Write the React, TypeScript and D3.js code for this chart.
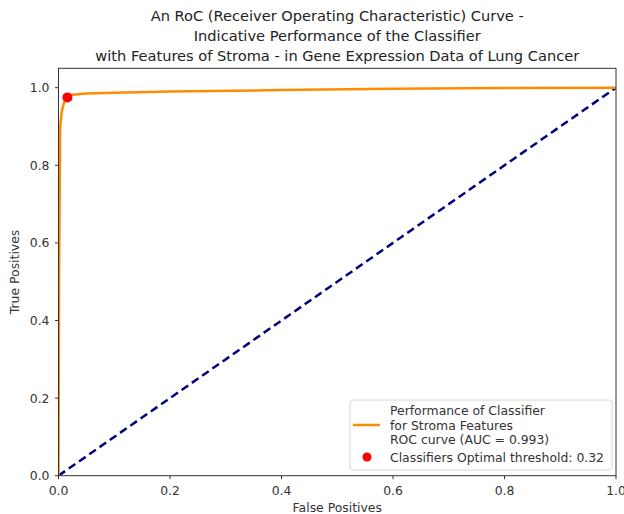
import React from "react";
import * as d3 from "d3";

const titleLines = [
  "An RoC (Receiver Operating Characteristic) Curve -",
  "Indicative Performance of the Classifier",
  "with Features of Stroma - in Gene Expression Data of Lung Cancer",
];
const xTicks = [0, 0.2, 0.4, 0.6, 0.8, 1.0];
const yTicks = [0, 0.2, 0.4, 0.6, 0.8, 1.0];
const rocFpr = [0, 0.001, 0.003, 0.006, 0.01, 0.016, 0.025, 0.05, 0.1, 0.2, 0.4, 0.6, 0.8, 1.0];
const rocTpr = [0, 0.5, 0.9, 0.94, 0.962, 0.975, 0.982, 0.985, 0.987, 0.99, 0.994, 0.997, 0.999, 1.0];
const chanceFpr = [0, 1];
const chanceTpr = [0, 1];
const optimalPoint = { fpr: 0.016, tpr: 0.975 };
const legendLabels = [
  "Performance of Classifier",
  "for Stroma Features",
  "ROC curve (AUC = 0.993)",
  "Classifiers Optimal threshold: 0.32",
];

const W = 624;
const H = 514;
const left = 58.5;
const right = 616;
const top = 68.3;
const bottom = 475.7;
const FONT = "DejaVu Sans, sans-serif";
const FS = 12.4;

export default function App() {
  const x = d3.scaleLinear().domain([0, 1]).range([left, right]);
  const y = d3.scaleLinear().domain([0, 1.05]).range([bottom, top]);
  const line = d3
    .line<[number, number]>()
    .x((d) => x(d[0]))
    .y((d) => y(d[1]));
  const rocData: [number, number][] = rocFpr.map((f, i) => [f, rocTpr[i]]);
  const chanceData: [number, number][] = chanceFpr.map((f, i) => [f, chanceTpr[i]]);

  return (
    <svg
      width={W}
      height={H}
      style={{ position: "absolute", left: 0, top: 0, background: "#fff" }}
      fontFamily={FONT}
    >
      <rect x={0} y={0} width={W} height={H} fill="#fff" />
      {titleLines.map((t, i) => (
        <text
          key={i}
          x={(left + right) / 2}
          y={20.5 + i * 20}
          textAnchor="middle"
          fontSize={14.6}
          fill="#222"
        >
          {t}
        </text>
      ))}
      <defs>
        <clipPath id="plot">
          <rect x={left} y={top} width={right - left} height={bottom - top} />
        </clipPath>
      </defs>
      <g clipPath="url(#plot)">
        <path
          d={line(chanceData) || ""}
          fill="none"
          stroke="#000080"
          strokeWidth={2.5}
          strokeDasharray="8,4.5"
        />
        <path d={line(rocData) || ""} fill="none" stroke="#ff8c00" strokeWidth={2.5} />
        <circle cx={x(optimalPoint.fpr)} cy={y(optimalPoint.tpr)} r={5} fill="red" />
      </g>
      <rect
        x={left}
        y={top}
        width={right - left}
        height={bottom - top}
        fill="none"
        stroke="#333"
        strokeWidth={1}
      />
      {xTicks.map((t) => (
        <g key={"x" + t}>
          <line x1={x(t)} x2={x(t)} y1={bottom} y2={bottom + 3.5} stroke="#333" />
          <text x={x(t)} y={bottom + 19} textAnchor="middle" fontSize={FS} fill="#333">
            {t.toFixed(1)}
          </text>
        </g>
      ))}
      {yTicks.map((t) => (
        <g key={"y" + t}>
          <line x1={left - 3.5} x2={left} y1={y(t)} y2={y(t)} stroke="#333" />
          <text x={left - 9} y={y(t) + 4.5} textAnchor="end" fontSize={FS} fill="#333">
            {t.toFixed(1)}
          </text>
        </g>
      ))}
      <text x={(left + right) / 2} y={511.5} textAnchor="middle" fontSize={FS} fill="#333">
        False Positives
      </text>
      <text
        transform={`translate(19, ${(top + bottom) / 2}) rotate(-90)`}
        textAnchor="middle"
        fontSize={FS}
        fill="#333"
      >
        True Positives
      </text>
      <g>
        <rect
          x={350}
          y={400}
          width={262}
          height={70}
          rx={3}
          fill="#fff"
          fillOpacity={0.85}
          stroke="#d6d6d6"
        />
        <line x1={353} x2={380} y1={425} y2={425} stroke="#ff8c00" strokeWidth={2.5} />
        {legendLabels.slice(0, 3).map((t, i) => (
          <text key={i} x={390} y={415 + i * 14.5} fontSize={FS} fill="#333">
            {t}
          </text>
        ))}
        <circle cx={367} cy={457} r={4.5} fill="red" />
        <text x={390} y={462} fontSize={FS} fill="#333">
          {legendLabels[3]}
        </text>
      </g>
    </svg>
  );
}
